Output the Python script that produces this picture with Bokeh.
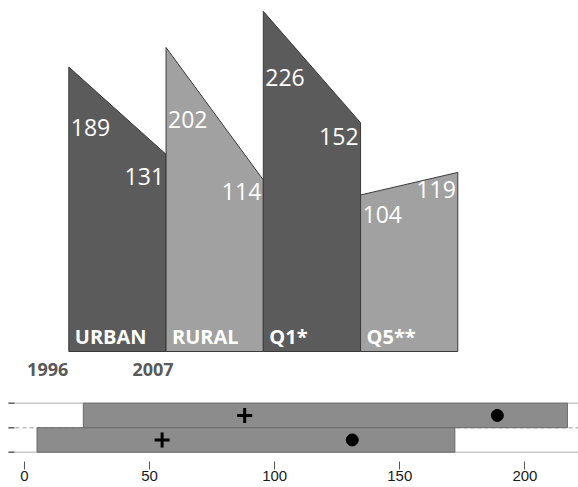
from bokeh.plotting import figure
from bokeh.models import Range1d, FixedTicker
from bokeh.layouts import column
from bokeh.embed import file_html
from bokeh.resources import INLINE
from bokeh.core.properties import value

# ---------------- data ----------------
categories = ["URBAN", "RURAL", "Q1*", "Q5**"]
val_1996 = [189, 202, 226, 104]
val_2007 = [131, 114, 152, 119]
years = ["1996", "2007"]

range_low = [23.5, 5]
range_high = [217, 172]
plus_vals = [88, 55]
dot_vals = [189, 131]
x_ticks = [0, 50, 100, 150, 200]

# ---------------- style ----------------
fill_colors = ["#5b5b5b", "#a1a1a1", "#5b5b5b", "#a1a1a1"]
W = 578
SX = 97.25     # px per category
SY = 1.505     # px per unit
X0 = 68.3      # px of first shape's left edge
Y0 = 351       # px of value zero from top of top frame
H1 = 388
left_lab_off = [60, 71.7, 66, 19.5]    # px below corner (text centre)
right_lab_off = [22, 12, 14, 17]
year_label_px = [47.2, 152.5]

p1 = figure(frame_width=W, frame_height=H1,
            x_range=Range1d(-X0 / SX, (W - X0) / SX),
            y_range=Range1d(-(H1 - Y0) / SY, Y0 / SY),
            x_axis_location=None, y_axis_location=None,
            output_backend="svg", toolbar_location=None, min_border=0)
p1.grid.visible = False
p1.outline_line_color = None

n = len(categories)
xs = [[i, i, i + 1, i + 1] for i in range(n)]
ys = [[0, a, b, 0] for a, b in zip(val_1996, val_2007)]
p1.patches(xs, ys, fill_color=fill_colors, line_color="#3a3a3a", line_width=1)

p1.text(x=[i + 2 / SX for i in range(n)],
        y=[v - o / SY for v, o in zip(val_1996, left_lab_off)],
        text=[str(v) for v in val_1996], text_align="left",
        text_baseline="middle", text_font=value("Open Sans"),
        text_font_size="23px", text_color="white")
p1.text(x=[i + 1 - 2 / SX for i in range(n)],
        y=[v - o / SY for v, o in zip(val_2007, right_lab_off)],
        text=[str(v) for v in val_2007], text_align="right",
        text_baseline="middle", text_font=value("Open Sans"),
        text_font_size="23px", text_color="white")
p1.text(x=[i + 6 / SX for i in range(n)], y=[14.7 / SY] * n,
        text=categories, text_align="left", text_baseline="middle",
        text_font=value("Open Sans"), text_font_style="bold",
        text_font_size="20px", text_color="white")
p1.text(x=[(px - X0) / SX for px in year_label_px], y=[-18.2 / SY] * 2,
        text=years, text_align="center", text_baseline="middle",
        text_font=value("Open Sans"), text_font_style="bold",
        text_font_size="18px", text_color="#595959")

# ---------------- bottom chart ----------------
SX2 = 2.502
XZ = 24
H2 = 73
SY2 = 24.5
top_line_px = 14.7
x_lo = -XZ / SX2
x_hi = (W - XZ) / SX2
p2 = figure(frame_width=W, frame_height=H2,
            x_range=Range1d(x_lo, x_hi),
            y_range=Range1d(2.5 - (H2 - top_line_px) / SY2, 2.5 + top_line_px / SY2),
            y_axis_location=None,
            output_backend="svg", toolbar_location=None, min_border=0)
p2.grid.visible = False
p2.outline_line_color = None

xs0 = (8 - XZ) / SX2
p2.segment(x0=[xs0] * 2, x1=[x_hi] * 2, y0=[0.5, 2.5], y1=[0.5, 2.5],
           line_color="#c8c8c8", line_width=1.5)
p2.segment(x0=[xs0], x1=[x_hi], y0=[1.5], y1=[1.5],
           line_color="#bdbdbd", line_width=1.5, line_dash="4 3")
p2.segment(x0=[xs0] * 3, x1=[xs0 + 6 / SX2] * 3, y0=[0.5, 1.5, 2.5], y1=[0.5, 1.5, 2.5],
           line_color="#666666", line_width=1.5)

ypos = [2, 1]
p2.hbar(y=ypos, left=range_low, right=range_high, height=1.0,
        fill_color="#8c8c8c", line_color="#6a6a6a", line_width=1)
p2.scatter(plus_vals, ypos, marker="cross", size=15, line_width=3, line_color="black")
p2.scatter(dot_vals, ypos, marker="circle", size=12, fill_color="black", line_color="black")

ax = p2.xaxis[0]
ax.ticker = FixedTicker(ticks=x_ticks)
ax.axis_line_color = None
ax.major_tick_in = 0
ax.major_tick_out = 8
ax.minor_tick_line_color = None
ax.major_tick_line_color = "#555555"
ax.major_label_standoff = 1
ax.major_label_text_font = "Liberation Sans"
ax.major_label_text_font_size = "15px"
ax.major_label_text_color = "#1a1a1a"

layout = column(p1, p2, spacing=0)
open("out.html", "w").write(file_html(layout, INLINE))
